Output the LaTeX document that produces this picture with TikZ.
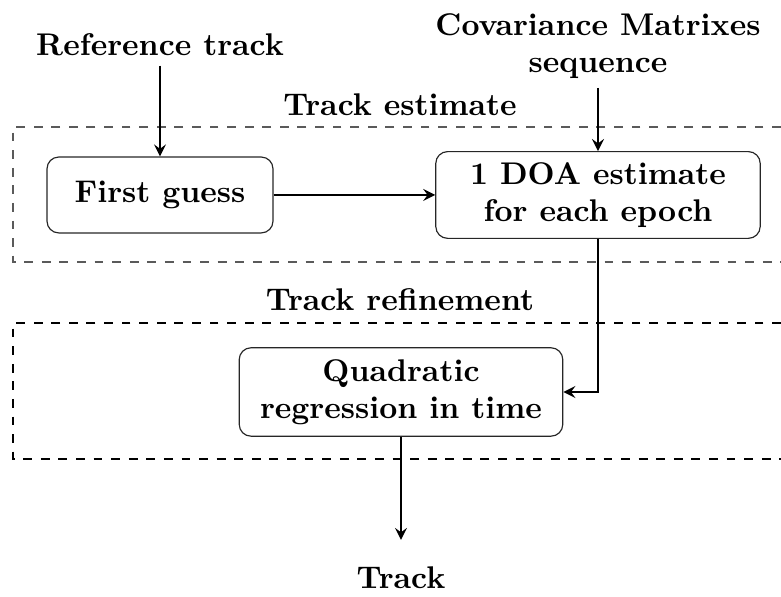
\documentclass[tikz,border=0pt]{standalone}
\usepackage{tikz}
\usetikzlibrary{arrows,positioning,calc}
\definecolor{framegray}{RGB}{90,90,90}

\begin{document}
\begin{tikzpicture}[x=0.012cm, y=-0.012cm, font=\fontsize{10.7}{12.6}\selectfont\bfseries]
\tikzstyle{block} = [rectangle, rounded corners, draw=black!85, align=center, inner sep=2pt]
\tikzstyle{label} = [align=center, inner sep=3pt]
\tikzstyle{stage} = [dashed, draw=framegray, thin]
\tikzstyle{arrow} = [thick,->,>=stealth]

\useasboundingbox (0,0) rectangle (781,597);

% inputs
\node (reftrack) [label] at (160,45) {Reference track};
\node (covseq) [label] at (598,46) {Covariance Matrixes\\sequence};

% track estimate
\draw [stage] (781,127) -- (13,127) -- (13,262) -- (781,262);
\node (estlabel) [label] at (400,105) {Track estimate};
\node (guess) [block, minimum width=2.71cm, minimum height=0.91cm] at (160,195) {First guess};
\node (doa) [block, minimum width=3.89cm, minimum height=1.04cm] at (598,195) {1 DOA estimate\\for each epoch};

% track refinement
\draw [stage, draw=black] (781,323) -- (13,323) -- (13,459) -- (781,459);
\node (reflabel) [label] at (400,300) {Track refinement};
\node (quad) [block, minimum width=3.88cm, minimum height=1.06cm] at (401,392) {Quadratic\\regression in time};

% output
\node (track) [label] at (401,578) {Track};
\coordinate (trackend) at (401,540);

\draw [arrow] (reftrack) -- (guess);
\draw [arrow] (covseq) -- (doa);
\draw [arrow] (guess) -- (doa);
\draw [arrow] (doa.south) |- (quad.east);
\draw [arrow] (quad) -- (trackend);
\end{tikzpicture}
\end{document}
